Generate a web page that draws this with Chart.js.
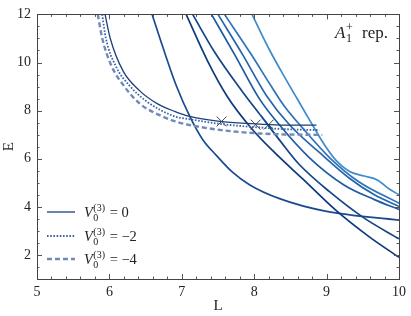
<!DOCTYPE html>
<html>
<head>
<meta charset="utf-8">
<script src="https://cdn.jsdelivr.net/npm/chart.js@4.4.0/dist/chart.umd.min.js"></script>
<style>
  html, body { margin: 0; padding: 0; background: #fff; }
  #wrap { width: 411px; height: 316px; }
</style>
</head>
<body>
<div id="wrap"><canvas id="c"></canvas></div>
<script>
// Nivel ligado para V0(3) = 0, -2, -4
const sL    = [5.94, 6.01, 6.19, 6.42, 6.66, 6.90, 7.11, 7.55, 8.07, 8.42, 8.86];
const sE    = [12.0, 11.02, 9.64, 8.82, 8.29, 7.97, 7.76, 7.54, 7.44, 7.40, 7.40];
const dotL  = [5.90, 5.95, 6.09, 6.28, 6.52, 6.90, 7.11, 7.55, 8.07, 8.42, 8.90];
const dotE  = [12.0, 11.02, 9.84, 9.03, 8.37, 7.76, 7.64, 7.44, 7.30, 7.23, 7.19];
const dashL = [5.84, 5.90, 6.02, 6.20, 6.42, 6.70, 6.90, 7.11, 7.55, 8.07, 8.42, 8.94];
const dashE = [12.0, 11.02, 9.92, 9.03, 8.29, 7.80, 7.56, 7.40, 7.19, 7.05, 7.01, 6.99];

// Niveles "libres" (de oscuro a claro)
const fbL = [7.06, 7.36, 7.63, 7.96, 8.28, 8.67, 9.13, 9.59, 10.0];
const fbE = [12.0, 10.04, 8.58, 7.27, 6.26, 5.16, 3.85, 2.75, 1.90];
const fcL = [7.15, 7.45, 7.83, 8.10, 8.38, 8.62, 9.04, 9.52, 10.0];
const fcE = [12.0, 10.45, 8.82, 7.76, 6.66, 5.77, 4.63, 3.53, 2.67];
const ffL = [6.59, 6.74, 6.93, 7.11, 7.29, 7.48, 7.70, 7.94, 8.35, 9.00, 10.0];
const ffE = [12.0, 10.62, 8.99, 7.76, 6.79, 6.13, 5.44, 4.91, 4.34, 3.81, 3.45];
const fdL = [7.41, 7.73, 8.07, 8.35, 8.76, 9.24, 9.66, 10.0];
const fdE = [12.0, 10.33, 8.50, 7.40, 6.05, 4.91, 4.30, 3.89];
const feL = [7.50, 7.84, 8.17, 8.49, 8.90, 9.31, 9.66, 10.0];
const feE = [12.0, 10.33, 8.62, 7.40, 6.26, 5.20, 4.50, 4.02];
const fgL = [7.59, 7.96, 8.24, 8.42, 8.67, 9.04, 9.45, 10.0];
const fgE = [12.0, 10.33, 8.99, 8.17, 7.27, 6.05, 5.03, 4.15];
const fhL = [7.97, 8.21, 8.42, 8.60, 8.79, 8.97, 9.13, 9.31, 9.52, 9.70, 9.86, 10.0];
const fhE = [12.0, 10.53, 9.39, 8.46, 7.48, 6.58, 5.93, 5.48, 5.28, 5.12, 4.75, 4.50];

// Marcas x
const crossL = [7.55, 8.02, 8.20];
const crossE = [7.55, 7.42, 7.42];

const legendVals = ['0', '\u22122', '\u22124'];

const SERIF = '"Liberation Serif", "DejaVu Serif", serif';
const pts = (xs, ys) => xs.map((x, i) => ({ x, y: ys[i] }));

const curve = (xs, ys, color, extra = {}) => ({
  data: pts(xs, ys),
  showLine: true,
  borderColor: color,
  borderWidth: 1.7,
  pointRadius: 0,
  cubicInterpolationMode: 'monotone',
  ...extra,
});

const STYLE = [
  { color: '#1b3f7d', width: 1.3, dash: [] },
  { color: '#3b62a6', width: 1.8, dash: [1.6, 1.6] },
  { color: '#6f8ab8', width: 2.4, dash: [5, 3] },
];

// texto tipo LaTeX: base, superíndice y subíndice apilados, resto
function mathText(ctx, x, y, base, sup, sub, rest, size, restX) {
  ctx.font = `italic ${size}px ${SERIF}`;
  ctx.fillText(base, x, y);
  x += ctx.measureText(base).width + 0.5;
  const small = Math.round(size * 0.68);
  ctx.font = `${small}px ${SERIF}`;
  ctx.fillText(sup, x, y - size * 0.42);
  ctx.fillText(sub, x, y + size * 0.26);
  x += Math.max(ctx.measureText(sup).width, ctx.measureText(sub).width) + 1;
  ctx.font = `${size}px ${SERIF}`;
  ctx.fillText(rest, restX ?? x, y);
}

const decor = {
  id: 'decor',
  afterDraw(chart) {
    const { ctx, chartArea: a, scales: { x, y } } = chart;
    ctx.save();
    ctx.strokeStyle = '#555';
    ctx.lineWidth = 1;
    const seg = (x1, y1, x2, y2) => { ctx.beginPath(); ctx.moveTo(x1, y1); ctx.lineTo(x2, y2); ctx.stroke(); };

    // ticks hacia adentro en los cuatro lados
    for (let i = 0; i <= 25; i++) {
      const v = 5 + i * 0.2;
      const px = Math.round(x.getPixelForValue(v)) + 0.5;
      const len = i % 5 === 0 ? 5 : 2.5;
      seg(px, a.bottom, px, a.bottom - len);
      seg(px, a.top, px, a.top + len);
    }
    for (let i = 0; i <= 22; i++) {
      const v = 1 + i * 0.5;
      const py = Math.round(y.getPixelForValue(v)) + 0.5;
      const len = v % 2 === 0 ? 5 : 2.5;
      seg(a.left, py, a.left + len, py);
      seg(a.right, py, a.right - len, py);
    }
    ctx.strokeStyle = '#444';
    ctx.strokeRect(Math.round(a.left) + 0.5, Math.round(a.top) + 0.5,
                   Math.round(a.right - a.left), Math.round(a.bottom - a.top));

    ctx.fillStyle = '#222';
    ctx.textBaseline = 'alphabetic';
    ctx.textAlign = 'left';
    mathText(ctx, 335, 38, 'A', '+', '1', 'rep.', 17, 362);

    // leyenda
    const rows = [212, 236, 259];
    rows.forEach((ry, i) => {
      const st = STYLE[i];
      ctx.strokeStyle = st.color;
      ctx.lineWidth = st.width;
      ctx.setLineDash(st.dash);
      seg(47, ry, 75, ry);
      ctx.setLineDash([]);
      ctx.fillStyle = '#222';
      mathText(ctx, 84, ry + 5, 'V', '(3)', '0', ' = ' + legendVals[i], 14.5);
    });
    ctx.restore();
  },
};

new Chart(document.getElementById('c'), {
  type: 'scatter',
  data: {
    datasets: [
      curve(sL, sE, STYLE[0].color, { borderWidth: STYLE[0].width }),
      curve(dotL, dotE, STYLE[1].color, { borderWidth: STYLE[1].width, borderDash: STYLE[1].dash }),
      curve(dashL, dashE, STYLE[2].color, { borderWidth: STYLE[2].width, borderDash: STYLE[2].dash }),
      curve(fbL, fbE, '#0e3a7c'),
      curve(fcL, fcE, '#134588'),
      curve(ffL, ffE, '#1a4b8f'),
      curve(fdL, fdE, '#1f5aa3'),
      curve(feL, feE, '#2465ae'),
      curve(fgL, fgE, '#2e72bb'),
      curve(fhL, fhE, '#3f8bcc'),
      {
        data: pts(crossL, crossE),
        pointStyle: 'crossRot',
        pointRadius: 7,
        borderColor: '#444',
        borderWidth: 1,
        showLine: false,
      },
    ],
  },
  options: {
    responsive: true,
    maintainAspectRatio: false,
    animation: false,
    layout: { padding: { top: 9, right: 11, left: 0, bottom: 0 } },
    plugins: { legend: { display: false }, tooltip: { enabled: false } },
    scales: {
      x: {
        min: 5, max: 10,
        afterFit: s => { s.height = 37; },
        afterBuildTicks: s => { s.ticks = [5, 6, 7, 8, 9, 10].map(value => ({ value })); },
        grid: { display: false, drawTicks: false },
        border: { display: false },
        ticks: { color: '#222', font: { family: SERIF, size: 14 }, padding: 5, maxRotation: 0 },
        title: { display: true, text: 'L', color: '#222', font: { family: SERIF, size: 15 }, padding: { top: 0, bottom: 1 } },
      },
      y: {
        min: 1, max: 12,
        afterFit: s => { s.width = 37; },
        afterBuildTicks: s => { s.ticks = [2, 4, 6, 8, 10, 12].map(value => ({ value })); },
        grid: { display: false, drawTicks: false },
        border: { display: false },
        ticks: { color: '#222', font: { family: SERIF, size: 14 }, padding: 6 },
        title: { display: true, text: 'E', color: '#222', font: { family: SERIF, size: 15 }, padding: { top: 0, bottom: 0 } },
      },
    },
  },
  plugins: [decor],
});
</script>
</body>
</html>
